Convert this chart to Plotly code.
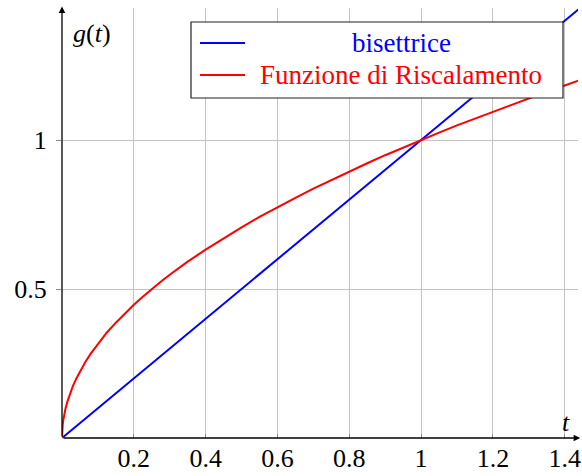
import plotly.graph_objects as go

# bisector g(t) = t
t_bis = [0.0, 1.44]
g_bis = [0.0, 1.44]

# rescaling function samples
t_resc = [0.0, 0.0005, 0.001, 0.002, 0.004, 0.007, 0.01, 0.015, 0.02, 0.03, 0.04, 0.05,
          0.065, 0.08, 0.1, 0.125, 0.15, 0.175, 0.2, 0.225, 0.25, 0.275, 0.3, 0.35, 0.4,
          0.45, 0.5, 0.55, 0.6, 0.65, 0.7, 0.75, 0.8, 0.85, 0.9, 0.95, 1.0, 1.05, 1.1,
          1.15, 1.2, 1.25, 1.3, 1.35, 1.4, 1.44]
g_resc = [0.0, 0.022, 0.032, 0.045, 0.063, 0.084, 0.1, 0.122, 0.141, 0.173, 0.2, 0.224,
          0.255, 0.283, 0.316, 0.354, 0.387, 0.418, 0.447, 0.474, 0.5, 0.524, 0.548, 0.592,
          0.632, 0.671, 0.707, 0.742, 0.775, 0.806, 0.837, 0.866, 0.894, 0.922, 0.949,
          0.975, 1.0, 1.025, 1.049, 1.072, 1.095, 1.118, 1.14, 1.162, 1.183, 1.2]

x_ticks = [0.2, 0.4, 0.6, 0.8, 1.0, 1.2, 1.4]
x_tick_text = ["0.2", "0.4", "0.6", "0.8", "1", "1.2", "1.4"]
y_ticks = [0.5, 1.0]
y_tick_text = ["0.5", "1"]

series_names = ["bisettrice", "Funzione di Riscalamento"]
series_colors = ["#0000ff", "#ff0000"]

XMAX, YMAX = 1.437, 1.443
FONT = "Liberation Serif"
FS = 26
FS_LEG = 27

W, H = 582, 476
ML, MR, MT, MB = 62, 4, 8, 38
PW, PH = W - ML - MR, H - MT - MB


def px(X):
    return (X - ML) / PW


def py(Y):
    return (H - MB - Y) / PH


fig = go.Figure()
fig.add_trace(go.Scatter(x=t_bis, y=g_bis, mode="lines", name=series_names[0],
                         line=dict(color=series_colors[0], width=2), showlegend=False))
fig.add_trace(go.Scatter(x=t_resc, y=g_resc, mode="lines", name=series_names[1],
                         line=dict(color=series_colors[1], width=2),
                         showlegend=False))

shapes = []
annotations = []

# legend box
shapes.append(dict(type="rect", xref="paper", yref="paper",
                   x0=px(191), x1=px(563), y0=py(98), y1=py(22),
                   line=dict(color="#222", width=1.2), fillcolor="white", layer="above"))
for i, (name, col) in enumerate(zip(series_names, series_colors)):
    yy = py(43 + 32 * i)
    shapes.append(dict(type="line", xref="paper", yref="paper",
                       x0=px(200), x1=px(245), y0=yy, y1=yy,
                       line=dict(color=col, width=2), layer="above"))
    annotations.append(dict(xref="paper", yref="paper", x=px(401), y=yy,
                            text=name, showarrow=False, xanchor="center", yanchor="middle",
                            font=dict(family=FONT, size=FS_LEG, color=col)))

# axis arrows
annotations.append(dict(x=1.443, y=0, ax=0, ay=0, xref="x", yref="y", axref="x", ayref="y",
                        showarrow=True, arrowhead=2, arrowsize=1, arrowwidth=1.3,
                        arrowcolor="black", text=""))
annotations.append(dict(x=0, y=1.448, ax=0, ay=0, xref="x", yref="y", axref="x", ayref="y",
                        showarrow=True, arrowhead=2, arrowsize=1, arrowwidth=1.3,
                        arrowcolor="black", text=""))

# axis labels
annotations.append(dict(xref="paper", yref="paper", x=px(71), y=py(33), text="<i>g</i>(<i>t</i>)",
                        showarrow=False, xanchor="left", yanchor="middle",
                        font=dict(family=FONT, size=FS, color="black")))
annotations.append(dict(xref="paper", yref="paper", x=px(566), y=py(422), text="<i>t</i>",
                        showarrow=False, xanchor="center", yanchor="middle",
                        font=dict(family=FONT, size=FS, color="black")))

fig.update_layout(
    width=W, height=H,
    margin=dict(l=ML, r=MR, t=MT, b=MB),
    plot_bgcolor="white", paper_bgcolor="white",
    shapes=shapes, annotations=annotations,
    font=dict(family=FONT, size=FS, color="black"),
)
fig.update_xaxes(range=[0, XMAX], tickvals=x_ticks, ticktext=x_tick_text,
                 showgrid=True, gridcolor="#c4c4c4", gridwidth=1, zeroline=False,
                 showline=False, ticks="inside", ticklen=4, tickcolor="#888",
                 ticklabelstandoff=2,
                 tickfont=dict(family=FONT, size=FS), automargin=False)
fig.update_yaxes(range=[0, YMAX], tickvals=y_ticks, ticktext=y_tick_text,
                 showgrid=True, gridcolor="#c4c4c4", gridwidth=1, zeroline=False,
                 showline=False, ticks="outside", ticklen=5, tickcolor="#888",
                 ticklabelstandoff=4,
                 tickfont=dict(family=FONT, size=FS), automargin=False)

fig.write_html("out.html")
